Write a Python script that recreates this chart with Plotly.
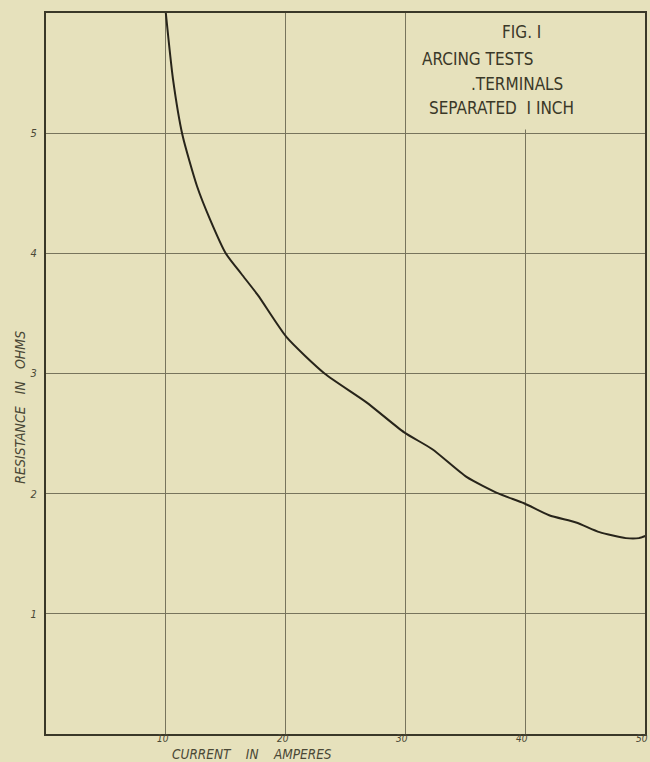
import plotly.graph_objects as go

# curve: current (A) vs resistance (ohms)
current = [10.0, 10.6, 11.4, 12.6, 13.7, 15.0, 16.3, 17.7, 20.1, 23.25, 26.75,
           29.9, 32.25, 35.1, 37.8, 39.9, 42.0, 44.25, 46.2, 48.4, 49.5, 50.1]
resistance = [6.0, 5.45, 4.98, 4.56, 4.28, 4.0, 3.83, 3.65, 3.3, 3.0, 2.76,
              2.51, 2.37, 2.14, 2.0, 1.92, 1.82, 1.76, 1.68, 1.63, 1.63, 1.65]

x_ticks = [10, 20, 30, 40, 50]
y_ticks = [1, 2, 3, 4, 5]

box_lines = ["FIG. I", "ARCING TESTS", ".TERMINALS", "SEPARATED  I INCH"]
box_x = [39.7, 31.25, 35.3, 31.8]
box_y = [5.84, 5.62, 5.41, 5.21]
box_anchor = ["center", "left", "left", "left"]

BG = "#E6E1BC"
INK = "#3A3828"
GRID = "#77745C"
LABEL = "#4A4836"
FONT = "Liberation Sans Narrow, DejaVu Sans Condensed, sans-serif"

fig = go.Figure()
fig.add_trace(go.Scatter(x=current, y=resistance, mode="lines",
                         line=dict(color="#27241A", width=2, shape="spline", smoothing=0.6),
                         showlegend=False, hoverinfo="skip"))

# legend box hides the grid in the upper right
fig.add_shape(type="rect", x0=30.12, x1=50, y0=5.03, y1=6, layer="between",
              fillcolor=BG, line=dict(width=0))

for txt, bx, by, anc in zip(box_lines, box_x, box_y, box_anchor):
    fig.add_annotation(x=bx, y=by, text=txt, showarrow=False, xanchor=anc,
                       font=dict(family=FONT, size=17, color=INK))

# x tick labels sit tight under the axis, so place them by hand
for v in x_ticks:
    fig.add_annotation(x=v - 0.25, y=-0.0065, yref="paper", yanchor="middle", text=str(v),
                       showarrow=False, borderpad=0,
                       font=dict(family=FONT, size=10, color=LABEL, style="italic"))

fig.add_annotation(xref="paper", yref="paper", x=0.208, y=-0.0275, yanchor="middle",
                   text="CURRENT    IN    AMPERES", showarrow=False, borderpad=0,
                   font=dict(family=FONT, size=13.5, color=LABEL, style="italic"))
fig.add_annotation(xref="paper", yref="paper", x=-0.026, y=0.453, xanchor="right",
                   text="RESISTANCE   IN   OHMS", showarrow=False, textangle=-90,
                   font=dict(family=FONT, size=14, color=LABEL, style="italic"))

fig.update_xaxes(range=[0, 50], tickvals=x_ticks, showticklabels=False, showgrid=True,
                 gridcolor=GRID, gridwidth=1, showline=True, linecolor=INK, linewidth=2,
                 mirror=True, zeroline=False, ticks="")
fig.update_yaxes(range=[0, 6], tickvals=y_ticks, showgrid=True, gridcolor=GRID,
                 gridwidth=1, showline=True, linecolor=INK, linewidth=2, mirror=True,
                 zeroline=False, ticks="", ticklabelstandoff=5,
                 tickfont=dict(family=FONT, size=11, color=LABEL, style="italic"))

fig.update_layout(width=650, height=762, paper_bgcolor=BG, plot_bgcolor=BG,
                  margin=dict(l=46, r=3, t=13, b=28), showlegend=False)

fig.write_html("out.html", config={"displayModeBar": False}, post_script=(
    "document.body.style.margin='0';"
    "document.body.style.overflow='hidden';"
    f"document.body.style.background='{BG}';"))
